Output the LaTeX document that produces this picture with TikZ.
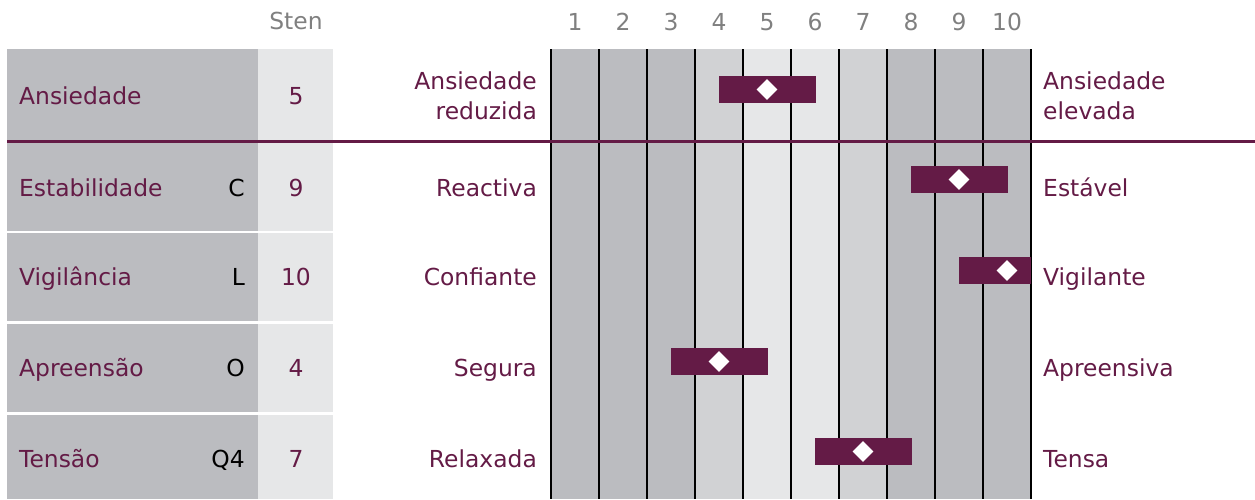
\documentclass[tikz,border=0pt]{standalone}
\usepackage{fontspec}
\setmainfont{DejaVu Sans}
\usetikzlibrary{shapes.geometric}
\definecolor{plum}{RGB}{100,27,70}
\definecolor{gdark}{RGB}{187,188,192}
\definecolor{gmid}{RGB}{209,210,212}
\definecolor{glight}{RGB}{230,231,232}
\definecolor{numgray}{RGB}{128,128,128}
\tikzset{
  txt/.style={font=\fontsize{23.4}{30}\selectfont, inner sep=0pt},
  lbl/.style={txt, text=plum, anchor=base west},
  code/.style={txt, text=black, anchor=base east},
  stenval/.style={txt, text=plum, anchor=base},
  leftpole/.style={txt, text=plum, anchor=base east, align=right},
  rightpole/.style={txt, text=plum, anchor=base west, align=left},
  hdr/.style={txt, text=numgray, anchor=base},
  bar/.style={fill=plum, draw=none, inner sep=0pt, minimum height=27pt},
  dmd/.style={diamond, fill=white, draw=none, inner sep=0pt, minimum size=21pt},
  vline/.style={black, line width=1.1pt},
}
\begin{document}
\begin{tikzpicture}[x=1pt,y=-1pt]
\useasboundingbox (0,0) rectangle (1255,499);
% chart columns
\foreach \i/\c in {1/gdark,2/gdark,3/gdark,4/gmid,5/glight,6/glight,7/gmid,8/gdark,9/gdark,10/gdark}{
  \fill[\c] ({551+(\i-1)*48},49) rectangle ({551+\i*48},499);
  \node[hdr] (h\i) at ({551+(\i-0.5)*48},30) {\i};
}
\foreach \i in {0,...,10}{
  \draw[vline] ({551+\i*48},49) -- ({551+\i*48},499);
}
\node[hdr] (sten) at (296,29) {Sten};
% left boxes
\foreach \t/\b in {49/140,143/231,233/321,324/412,415/499}{
  \fill[gdark] (7,\t) rectangle (258,\b);
  \fill[glight] (258,\t) rectangle (333,\b);
}
% separator line
\draw[plum, line width=3pt] (7,141.5) -- (1255,141.5);
% row 1
\node[lbl] (l1) at (19,104) {Ansiedade};
\node[stenval] (s1) at (296,104) {5};
\node[leftpole] (a1) at (537,89) {Ansiedade};
\node[leftpole] (a1b) at (537,119) {reduzida};
\node[rightpole] (b1) at (1043,89) {Ansiedade};
\node[rightpole] (b1b) at (1043,119) {elevada};
% row 2
\node[lbl] (l2) at (19,196) {Estabilidade};
\node[code] (c2) at (245,196) {C};
\node[stenval] (s2) at (296,196) {9};
\node[leftpole] (a2) at (537,196) {Reactiva};
\node[rightpole] (b2) at (1043,196) {Estável};
% row 3
\node[lbl] (l3) at (19,285) {Vigilância};
\node[code] (c3) at (245,285) {L};
\node[stenval] (s3) at (296,285) {10};
\node[leftpole] (a3) at (537,285) {Confiante};
\node[rightpole] (b3) at (1043,285) {Vigilante};
% row 4
\node[lbl] (l4) at (19,376) {Apreensão};
\node[code] (c4) at (245,376) {O};
\node[stenval] (s4) at (296,376) {4};
\node[leftpole] (a4) at (537,376) {Segura};
\node[rightpole] (b4) at (1043,376) {Apreensiva};
% row 5
\node[lbl] (l5) at (19,467) {Tensão};
\node[code] (c5) at (245,467) {Q4};
\node[stenval] (s5) at (296,467) {7};
\node[leftpole] (a5) at (537,467) {Relaxada};
\node[rightpole] (b5) at (1043,467) {Tensa};
% bars
\node[bar, minimum width=97pt] (bar1) at (767,89.5) {};
\node[bar, minimum width=97pt] (bar2) at (959,179.5) {};
\node[bar, minimum width=72pt] (bar3) at (995,270.5) {};
\node[bar, minimum width=97pt] (bar4) at (719,361.5) {};
\node[bar, minimum width=97pt] (bar5) at (863,451.5) {};
% diamonds
\node[dmd] (d1) at (767,89.5) {};
\node[dmd] (d2) at (959,179.5) {};
\node[dmd] (d3) at (1007,270.5) {};
\node[dmd] (d4) at (719,361.5) {};
\node[dmd] (d5) at (863,451.5) {};
\end{tikzpicture}
\end{document}
